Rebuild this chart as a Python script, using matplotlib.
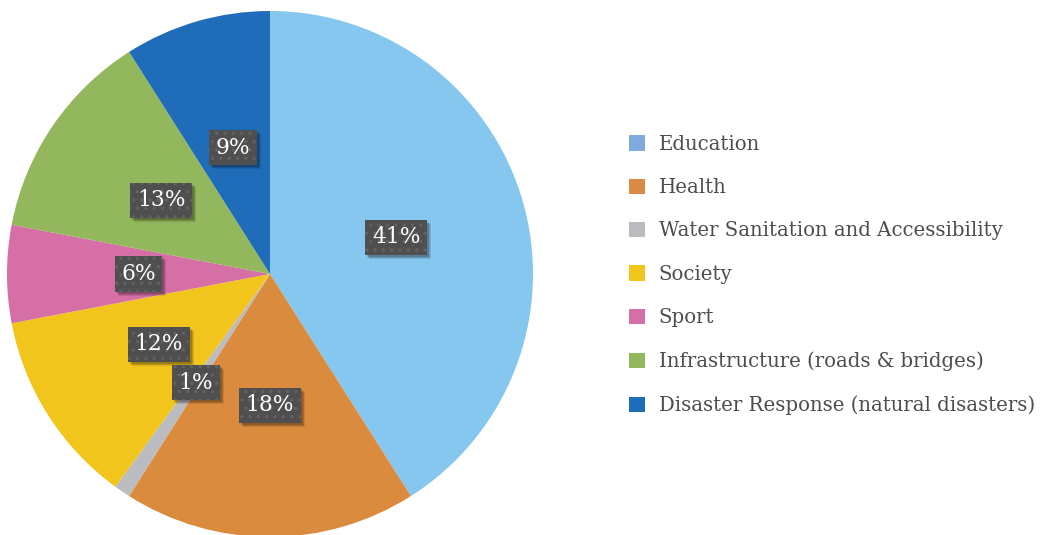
import matplotlib.pyplot as plt
from matplotlib.patches import Patch, Rectangle

plt.rcParams['hatch.linewidth'] = 1.2

# data
categories = ['Education', 'Health', 'Water Sanitation and Accessibility',
              'Society', 'Sport', 'Infrastructure (roads & bridges)',
              'Disaster Response (natural disasters)']
shares = [41, 18, 1, 12, 6, 13, 9]
pie_colors = ['#85C7EE', '#DB8B3E', '#BBBCC0', '#F2C51D', '#D56FA5', '#93B75C', '#1F6DB8']
legend_colors = ['#80AADB', '#DB8B45', '#BBBCC0', '#F2C51D', '#D56FA5', '#93B75C', '#1F6DB8']

fig = plt.figure(figsize=(10.44, 5.35), dpi=100)
ax = fig.add_axes([0, 0, 1, 1])

wedges, texts, autotexts = ax.pie(
    shares, colors=pie_colors, center=(270, 261), radius=263,
    startangle=90, counterclock=False, autopct='%.0f%%',
    pctdistance=0.5, wedgeprops=dict(linewidth=0),
    textprops=dict(family='DejaVu Serif', fontsize=15.7, color='white'))

ax.set_xlim(0, 1044)
ax.set_ylim(0, 535)
ax.set_aspect('equal')
ax.axis('off')

for t in autotexts:
    t.set_zorder(5)
    t.set_bbox(dict(boxstyle='square,pad=0.3', facecolor='#4F4F4F',
                    edgecolor='#626262', linewidth=0, hatch='..'))

# soft drop shadow behind each label box (axes units are pixels here)
fig.canvas.draw()
inv = ax.transData.inverted()
for t in autotexts:
    bb = t.get_bbox_patch().get_window_extent().transformed(inv)
    for k, a in [(4, 0.10), (3, 0.14), (2, 0.16)]:
        ax.add_patch(Rectangle((bb.x0 + k, bb.y0 - k), bb.width, bb.height,
                               facecolor='black', edgecolor='none',
                               alpha=a, zorder=4))

handles = [Patch(facecolor=c, edgecolor='none') for c in legend_colors]
leg = ax.legend(handles, categories, loc='center left',
                bbox_to_anchor=(611 / 1044, 0.486), frameon=False,
                prop=dict(family='DejaVu Serif', size=14.2),
                handlelength=0.81, handleheight=0.81, handletextpad=0.71,
                labelspacing=1.235)
for txt in leg.get_texts():
    txt.set_color('#4D4D4D')

fig.savefig('out.png', dpi=100)
